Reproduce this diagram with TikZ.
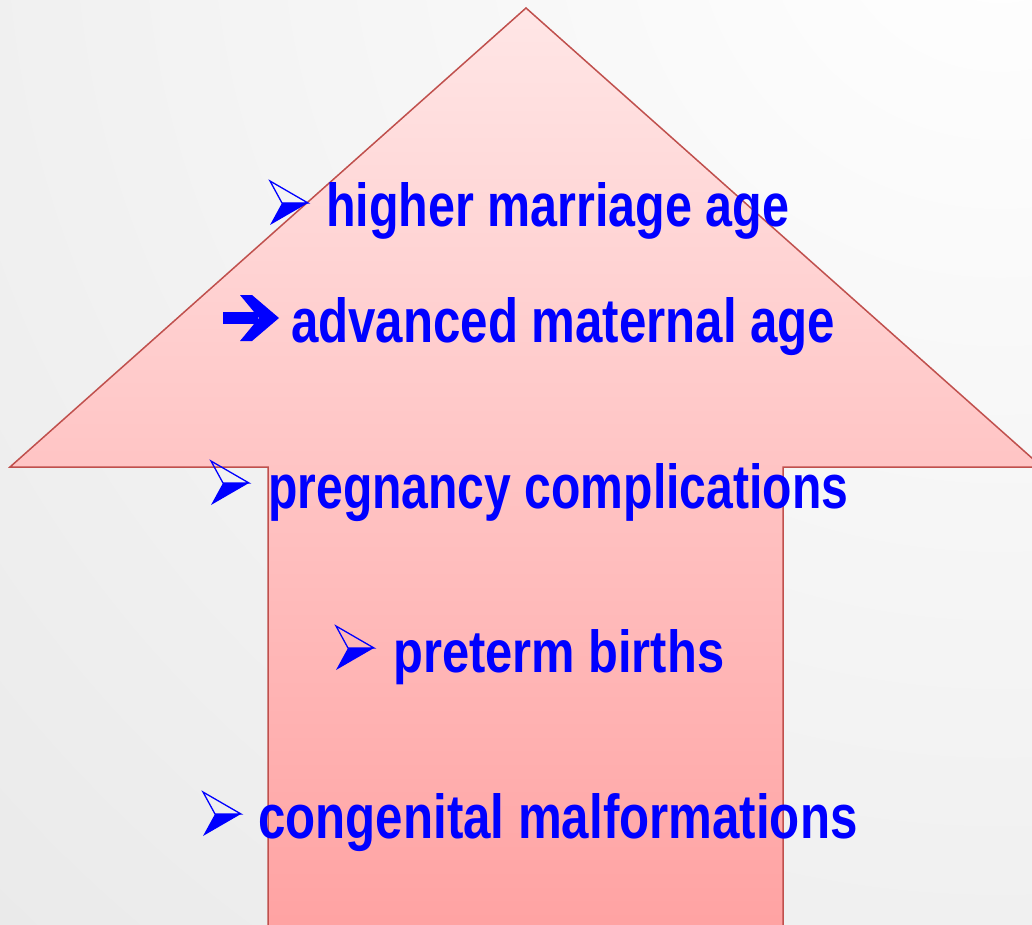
\documentclass[tikz,border=0pt]{standalone}
\usepackage{fontspec}
\setmainfont{Liberation Sans}
\usepackage{graphicx}
\definecolor{bordred}{HTML}{C0504D}
\definecolor{pinktop}{HTML}{FFE6E6}
\definecolor{pinkbot}{HTML}{FFA2A2}
\definecolor{txtblue}{RGB}{0,0,255}
\definecolor{bgout}{HTML}{DCDCDC}
\tikzset{
  bul/.pic={
    \draw[txtblue, line width=1.3pt, line join=miter] (-38,-22) -- (0,0) -- (-26,0) -- cycle;
    \fill[txtblue] (-26,0) -- (0,0) -- (-38,22) -- cycle;
  },
  itemtext/.style={anchor=base west, inner sep=0pt, text=txtblue, font=\bfseries}
}
\newcommand{\fitline}[3]{\resizebox{#1pt}{#2pt}{#3}}
\begin{document}
\begin{tikzpicture}[x=1pt,y=-1pt]
\useasboundingbox (0,0) rectangle (1032,925);
\clip (0,0) rectangle (1032,925);
% background
\fill[bgout] (0,0) rectangle (1032,925);
\shade[inner color=white, outer color=bgout] (1000,-100) circle[radius=2400];
% big arrow
\coordinate (apex) at (526,8);
\coordinate (rc) at (1042,467);
\coordinate (rs) at (783,467);
\coordinate (rb) at (783,935);
\coordinate (lb) at (268,935);
\coordinate (ls) at (268,467);
\coordinate (lc) at (10,467);
\shade[top color=pinktop, bottom color=pinkbot] (apex) -- (rc) -- (rs) -- (rb) -- (lb) -- (ls) -- (lc) -- cycle;
\draw[bordred, line width=1.5pt, line join=miter] (apex) -- (rc) -- (rs) -- (rb) -- (lb) -- (ls) -- (lc) -- cycle;
% bullets
\pic at (308,203) {bul};
\pic at (249,483) {bul};
\pic at (374,648) {bul};
\pic at (241,814) {bul};
% heavy arrow bullet
\fill[txtblue] (223,312) rectangle (258,324);
\fill[txtblue] (240,295) -- (252,295) -- (279,318) -- (252,341) -- (240,341) -- (259,318) -- cycle;
% texts
\node[itemtext] (t1) at (326,227) {\fitline{463}{44}{higher marriage age}};
\node[itemtext] (t2) at (291,342) {\fitline{544}{45}{advanced maternal age}};
\node[itemtext] (t3) at (268,508) {\fitline{580}{45}{pregnancy complications}};
\node[itemtext] (t4) at (393,672) {\fitline{331}{43}{preterm births}};
\node[itemtext] (t5) at (258,838) {\fitline{599}{45}{congenital malformations}};
\end{tikzpicture}
\end{document}
